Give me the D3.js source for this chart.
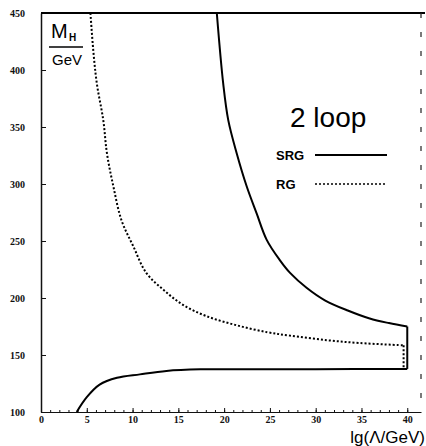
<!DOCTYPE html>
<html lang="en">
<head>
    <meta charset="UTF-8">
    <title>Higgs mass bounds, 2 loop</title>
    <style>
        body{ margin: 0; background: #fff; }
        .tick text{ font-family: "Liberation Serif", serif; font-weight: bold; font-size: 10px; fill: #111; }
        .axis line, .axis path{ stroke: #111; }
    </style>
</head>
<body>
    <svg width="426" height="446"></svg>
    <script src="https://cdn.jsdelivr.net/npm/d3@7"></script>
    <script>
        // values
        var xTicks = [0, 5, 10, 15, 20, 25, 30, 35, 40];
        var yTicks = [100, 150, 200, 250, 300, 350, 400, 450];

        var srgUpperX = [19.2, 19.9, 20.45, 21.37, 22.46, 23.56, 24.65, 26.1, 27.2, 29.0, 31.0, 33.5, 35.9, 38.0, 40.0];
        var srgUpperY = [450, 388, 356, 327, 298, 274, 251, 233, 222, 209, 198, 189, 182, 178, 175];

        var srgLowerX = [3.9, 5.0, 6.4, 8.3, 10.8, 13.7, 17.4, 22, 30, 40];
        var srgLowerY = [100, 113, 124, 130, 133, 136, 137.4, 137.5, 137.6, 137.8];

        var rgX = [5.4, 5.7, 6.1, 6.8, 7.2, 7.9, 8.8, 10.1, 11.5, 13.4, 15.5, 18.1, 21.4, 24.7, 27.2, 31.2, 34.8, 39.6];
        var rgY = [450, 418, 388, 356, 327, 298, 268, 245, 222, 207, 194, 184, 176, 170, 167, 163, 160.5, 158.5];

        var svg = d3.select("svg");
        var x = d3.scaleLinear().domain([0, 41.5]).range([41, 421]);
        var y = d3.scaleLinear().domain([100, 450]).range([412, 13]);

        function pts(xs, ys){ return xs.map(function(v, i){ return [v, ys[i]]; }); }

        // axes, ticks point inside
        svg.append("g").attr("class", "axis")
            .attr("transform", "translate(0," + y(100) + ")")
            .call(d3.axisBottom(x).tickValues(d3.range(0, 41, 1)).tickSizeInner(-2).tickSizeOuter(0).tickFormat(""))
            .call(function(g){ g.select(".domain").remove(); });
        svg.append("g").attr("class", "axis")
            .attr("transform", "translate(0," + y(100) + ")")
            .call(d3.axisBottom(x).tickValues(xTicks).tickSizeInner(-4).tickSizeOuter(0).tickPadding(4))
            .call(function(g){ g.select(".domain").attr("stroke-width", 1); });

        svg.append("g").attr("class", "axis")
            .attr("transform", "translate(" + x(0) + ",0)")
            .call(d3.axisLeft(y).tickValues(yTicks).tickSizeInner(-5).tickSizeOuter(0).tickPadding(16))
            .call(function(g){ g.select(".domain").attr("stroke-width", 1.5); });

        // frame: thick top, broken right side
        svg.append("line")
            .attr("x1", x(0)).attr("x2", 425)
            .attr("y1", y(450)).attr("y2", y(450))
            .attr("stroke", "#000").attr("stroke-width", 2);
        svg.append("line")
            .attr("x1", x(41.5)).attr("x2", x(41.5))
            .attr("y1", y(450)).attr("y2", y(100))
            .attr("stroke", "#222").attr("stroke-width", 1.2)
            .attr("stroke-dasharray", "5,14");

        var line = d3.line()
            .x(function(d){ return x(d[0]); })
            .y(function(d){ return y(d[1]); })
            .curve(d3.curveCatmullRom.alpha(0.5));

        // SRG: upper and lower branch joined at the right
        svg.append("path").datum(pts(srgUpperX, srgUpperY))
            .attr("d", line).attr("fill", "none")
            .attr("stroke", "#000").attr("stroke-width", 2);
        svg.append("path").datum(pts(srgLowerX, srgLowerY))
            .attr("d", line).attr("fill", "none")
            .attr("stroke", "#000").attr("stroke-width", 2);
        svg.append("line")
            .attr("x1", x(40)).attr("x2", x(40))
            .attr("y1", y(srgUpperY[srgUpperY.length - 1])).attr("y2", y(srgLowerY[srgLowerY.length - 1]))
            .attr("stroke", "#000").attr("stroke-width", 2);

        // RG dotted, dropping to the lower branch at the end
        svg.append("path").datum(pts(rgX, rgY))
            .attr("d", line)
            .attr("fill", "none")
            .attr("stroke", "#000").attr("stroke-width", 2)
            .attr("stroke-dasharray", "2,2");
        svg.append("line")
            .attr("x1", x(rgX[rgX.length - 1])).attr("x2", x(rgX[rgX.length - 1]))
            .attr("y1", y(rgY[rgY.length - 1])).attr("y2", y(srgLowerY[srgLowerY.length - 1]))
            .attr("stroke", "#000").attr("stroke-width", 2)
            .attr("stroke-dasharray", "2,2");

        // y label as fraction M_H / GeV
        var lab = svg.append("g").attr("font-family", "Liberation Sans, Arial, sans-serif").attr("fill", "#000");
        lab.append("text").attr("x", 51).attr("y", 38).attr("font-size", 20).text("M");
        lab.append("text").attr("x", 69).attr("y", 41).attr("font-size", 10).attr("font-weight", "bold").text("H");
        lab.append("line").attr("x1", 49).attr("x2", 83).attr("y1", 47).attr("y2", 47)
            .attr("stroke", "#000").attr("stroke-width", 1.5);
        lab.append("text").attr("x", 52).attr("y", 65).attr("font-size", 15).text("GeV");

        // x label
        svg.append("text")
            .attr("x", 425).attr("y", 443)
            .attr("text-anchor", "end")
            .attr("font-family", "Liberation Sans, Arial, sans-serif")
            .attr("font-size", 17)
            .text("lg(\u039B/GeV)");

        // legend
        svg.append("text")
            .attr("x", 290).attr("y", 127)
            .attr("font-family", "Liberation Sans, Arial, sans-serif")
            .attr("font-size", 28)
            .text("2 loop");

        var legend = [["SRG", 155, null], ["RG", 184, "2,2"]];
        legend.forEach(function(l){
            svg.append("text")
                .attr("x", 276).attr("y", l[1] + 5)
                .attr("font-family", "Liberation Sans, Arial, sans-serif")
                .attr("font-size", 13).attr("font-weight", "bold")
                .text(l[0]);
            svg.append("line")
                .attr("x1", 315).attr("x2", 387)
                .attr("y1", l[1]).attr("y2", l[1])
                .attr("stroke", "#000")
                .attr("stroke-width", l[2] ? 1.5 : 2)
                .attr("stroke-dasharray", l[2]);
        });
    </script>
</body>
</html>
